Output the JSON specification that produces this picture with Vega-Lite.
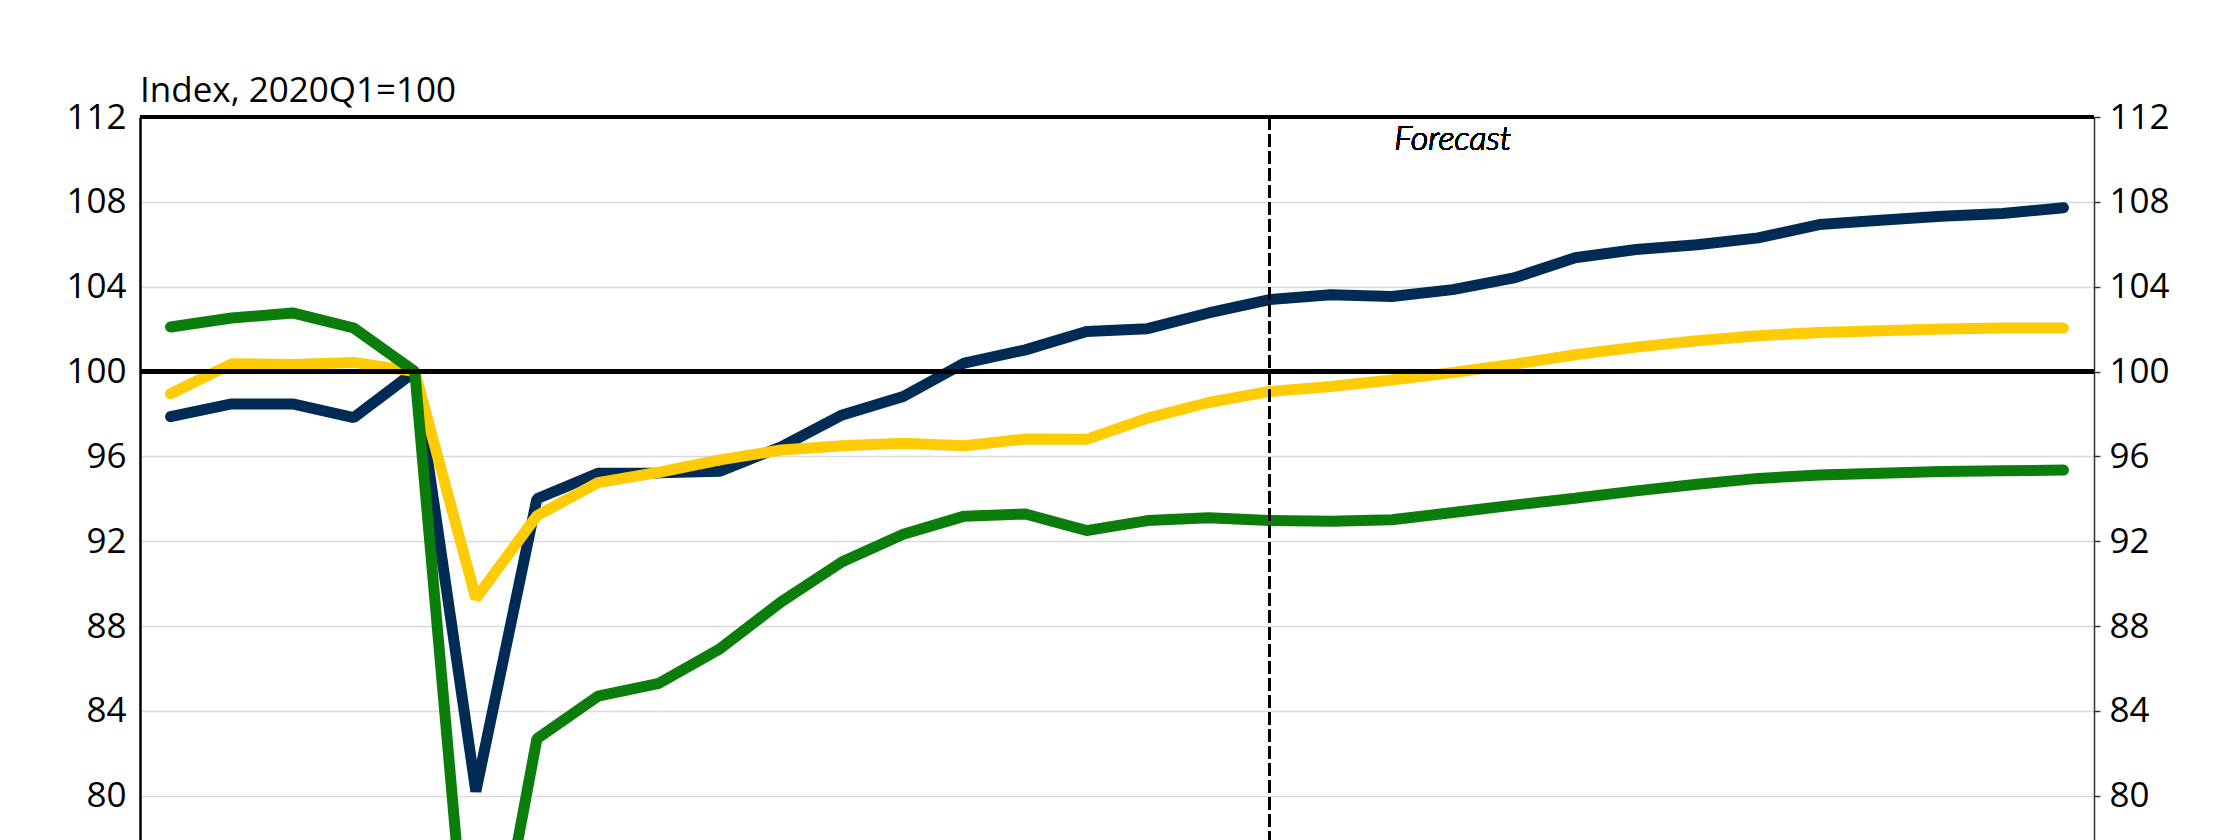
{
  "$schema": "https://vega.github.io/schema/vega-lite/v6.json",
  "autosize": "none",
  "padding": {"left": 140, "top": 117, "right": 143, "bottom": 10},
  "width": 1954,
  "height": 1018,
  "background": "white",
  "config": {
    "view": {"stroke": null},
    "font": "Open Sans",
    "axis": {"labelFont": "Open Sans", "labelFontSize": 35, "labelColor": "#000000", "labelFlush": false, "labelOverlap": false}
  },
  "title": {
    "text": "Index, 2020Q1=100",
    "anchor": "start",
    "frame": "group",
    "font": "Open Sans",
    "fontSize": 35,
    "fontWeight": "normal",
    "color": "#000000",
    "baseline": "alphabetic",
    "offset": -37
  },
  "datasets": {
    "series": [
      {"q": "2019Q1", "s": "Series 1", "v": 97.87}, {"q": "2019Q2", "s": "Series 1", "v": 98.47}, {"q": "2019Q3", "s": "Series 1", "v": 98.47}, {"q": "2019Q4", "s": "Series 1", "v": 97.83},
      {"q": "2020Q1", "s": "Series 1", "v": 100}, {"q": "2020Q2", "s": "Series 1", "v": 80.2}, {"q": "2020Q3", "s": "Series 1", "v": 94.0}, {"q": "2020Q4", "s": "Series 1", "v": 95.2},
      {"q": "2021Q1", "s": "Series 1", "v": 95.22}, {"q": "2021Q2", "s": "Series 1", "v": 95.3}, {"q": "2021Q3", "s": "Series 1", "v": 96.45}, {"q": "2021Q4", "s": "Series 1", "v": 97.95},
      {"q": "2022Q1", "s": "Series 1", "v": 98.82}, {"q": "2022Q2", "s": "Series 1", "v": 100.4}, {"q": "2022Q3", "s": "Series 1", "v": 101.02}, {"q": "2022Q4", "s": "Series 1", "v": 101.89},
      {"q": "2023Q1", "s": "Series 1", "v": 102.02}, {"q": "2023Q2", "s": "Series 1", "v": 102.76}, {"q": "2023Q3", "s": "Series 1", "v": 103.39}, {"q": "2023Q4", "s": "Series 1", "v": 103.62},
      {"q": "2024Q1", "s": "Series 1", "v": 103.54}, {"q": "2024Q2", "s": "Series 1", "v": 103.86}, {"q": "2024Q3", "s": "Series 1", "v": 104.41}, {"q": "2024Q4", "s": "Series 1", "v": 105.36},
      {"q": "2025Q1", "s": "Series 1", "v": 105.75}, {"q": "2025Q2", "s": "Series 1", "v": 105.98}, {"q": "2025Q3", "s": "Series 1", "v": 106.3}, {"q": "2025Q4", "s": "Series 1", "v": 106.93},
      {"q": "2026Q1", "s": "Series 1", "v": 107.13}, {"q": "2026Q2", "s": "Series 1", "v": 107.32}, {"q": "2026Q3", "s": "Series 1", "v": 107.45}, {"q": "2026Q4", "s": "Series 1", "v": 107.72},

      {"q": "2019Q1", "s": "Series 2", "v": 98.95}, {"q": "2019Q2", "s": "Series 2", "v": 100.36}, {"q": "2019Q3", "s": "Series 2", "v": 100.33}, {"q": "2019Q4", "s": "Series 2", "v": 100.43},
      {"q": "2020Q1", "s": "Series 2", "v": 100}, {"q": "2020Q2", "s": "Series 2", "v": 89.3}, {"q": "2020Q3", "s": "Series 2", "v": 93.2}, {"q": "2020Q4", "s": "Series 2", "v": 94.76},
      {"q": "2021Q1", "s": "Series 2", "v": 95.25}, {"q": "2021Q2", "s": "Series 2", "v": 95.83}, {"q": "2021Q3", "s": "Series 2", "v": 96.3}, {"q": "2021Q4", "s": "Series 2", "v": 96.5},
      {"q": "2022Q1", "s": "Series 2", "v": 96.62}, {"q": "2022Q2", "s": "Series 2", "v": 96.5}, {"q": "2022Q3", "s": "Series 2", "v": 96.82}, {"q": "2022Q4", "s": "Series 2", "v": 96.8},
      {"q": "2023Q1", "s": "Series 2", "v": 97.8}, {"q": "2023Q2", "s": "Series 2", "v": 98.54}, {"q": "2023Q3", "s": "Series 2", "v": 99.06}, {"q": "2023Q4", "s": "Series 2", "v": 99.29},
      {"q": "2024Q1", "s": "Series 2", "v": 99.6}, {"q": "2024Q2", "s": "Series 2", "v": 99.95}, {"q": "2024Q3", "s": "Series 2", "v": 100.34}, {"q": "2024Q4", "s": "Series 2", "v": 100.79},
      {"q": "2025Q1", "s": "Series 2", "v": 101.15}, {"q": "2025Q2", "s": "Series 2", "v": 101.45}, {"q": "2025Q3", "s": "Series 2", "v": 101.69}, {"q": "2025Q4", "s": "Series 2", "v": 101.84},
      {"q": "2026Q1", "s": "Series 2", "v": 101.92}, {"q": "2026Q2", "s": "Series 2", "v": 102.0}, {"q": "2026Q3", "s": "Series 2", "v": 102.05}, {"q": "2026Q4", "s": "Series 2", "v": 102.05},

      {"q": "2019Q1", "s": "Series 3", "v": 102.1}, {"q": "2019Q2", "s": "Series 3", "v": 102.52}, {"q": "2019Q3", "s": "Series 3", "v": 102.76}, {"q": "2019Q4", "s": "Series 3", "v": 102.05},
      {"q": "2020Q1", "s": "Series 3", "v": 100}, {"q": "2020Q2", "s": "Series 3", "v": 67.3}, {"q": "2020Q3", "s": "Series 3", "v": 82.68}, {"q": "2020Q4", "s": "Series 3", "v": 84.69},
      {"q": "2021Q1", "s": "Series 3", "v": 85.3}, {"q": "2021Q2", "s": "Series 3", "v": 86.93}, {"q": "2021Q3", "s": "Series 3", "v": 89.14}, {"q": "2021Q4", "s": "Series 3", "v": 91.03},
      {"q": "2022Q1", "s": "Series 3", "v": 92.33}, {"q": "2022Q2", "s": "Series 3", "v": 93.18}, {"q": "2022Q3", "s": "Series 3", "v": 93.28}, {"q": "2022Q4", "s": "Series 3", "v": 92.5},
      {"q": "2023Q1", "s": "Series 3", "v": 92.97}, {"q": "2023Q2", "s": "Series 3", "v": 93.1}, {"q": "2023Q3", "s": "Series 3", "v": 92.98}, {"q": "2023Q4", "s": "Series 3", "v": 92.94},
      {"q": "2024Q1", "s": "Series 3", "v": 93.01}, {"q": "2024Q2", "s": "Series 3", "v": 93.35}, {"q": "2024Q3", "s": "Series 3", "v": 93.7}, {"q": "2024Q4", "s": "Series 3", "v": 94.02},
      {"q": "2025Q1", "s": "Series 3", "v": 94.37}, {"q": "2025Q2", "s": "Series 3", "v": 94.68}, {"q": "2025Q3", "s": "Series 3", "v": 94.96}, {"q": "2025Q4", "s": "Series 3", "v": 95.12},
      {"q": "2026Q1", "s": "Series 3", "v": 95.2}, {"q": "2026Q2", "s": "Series 3", "v": 95.28}, {"q": "2026Q3", "s": "Series 3", "v": 95.32}, {"q": "2026Q4", "s": "Series 3", "v": 95.35}
    ]
  },
  "data": {"name": "series"},
  "resolve": {"axis": {"y": "independent"}},
  "layer": [
    {
      "transform": [{"filter": "datum.s === 'Series 1'"}],
      "mark": {"type": "line", "color": "#002b55", "strokeWidth": 11, "strokeCap": "round", "strokeJoin": "bevel"},
      "encoding": {
        "x": {"field": "q", "type": "ordinal", "sort": null, "scale": {"type": "point", "padding": 0.5}, "axis": null},
        "y": {"field": "v", "type": "quantitative", "scale": {"domain": [64, 112], "nice": false, "zero": false},
          "axis": {"orient": "left", "title": null, "values": [64, 68, 72, 76, 80, 84, 88, 92, 96, 100, 104, 108, 112],
            "grid": true, "gridColor": "#d9d9d9", "gridWidth": 1.5, "ticks": false, "labelPadding": 14,
            "domain": true, "domainColor": "#000000", "domainWidth": 2.5}}
      }
    },
    {
      "transform": [{"filter": "datum.s === 'Series 2'"}],
      "mark": {"type": "line", "color": "#ffcb05", "strokeWidth": 11, "strokeCap": "round", "strokeJoin": "bevel"},
      "encoding": {
        "x": {"field": "q", "type": "ordinal", "sort": null, "axis": null},
        "y": {"field": "v", "type": "quantitative",
          "axis": {"orient": "right", "title": null, "values": [64, 68, 72, 76, 80, 84, 88, 92, 96, 100, 104, 108, 112],
            "grid": false, "ticks": true, "tickSize": 6, "tickColor": "#333333", "tickWidth": 1.5, "labelPadding": 9,
            "domain": true, "domainColor": "#333333", "domainWidth": 1.5}}
      }
    },
    {
      "transform": [{"filter": "datum.s === 'Series 3'"}],
      "mark": {"type": "line", "color": "#0a7d0a", "strokeWidth": 11, "strokeCap": "round", "strokeJoin": "bevel"},
      "encoding": {
        "x": {"field": "q", "type": "ordinal", "sort": null, "axis": null},
        "y": {"field": "v", "type": "quantitative", "axis": null}
      }
    },
    {
      "mark": {"type": "rule", "color": "#000000", "strokeWidth": 3.5},
      "encoding": {"y": {"datum": 100, "type": "quantitative", "axis": null}}
    },
    {
      "mark": {"type": "rule", "color": "#000000", "strokeWidth": 2.5},
      "encoding": {"y": {"datum": 112, "type": "quantitative", "axis": null}}
    },
    {
      "mark": {"type": "rule", "color": "#000000", "strokeWidth": 2.5, "strokeDash": [13, 4]},
      "encoding": {"x": {"datum": "2023Q3", "type": "ordinal", "axis": null}}
    },
    {
      "mark": {"type": "text", "text": "Forecast", "font": "Lato", "fontSize": 34, "fontStyle": "italic", "fontWeight": 300, "align": "center", "baseline": "middle", "color": "#000000"},
      "encoding": {
        "x": {"datum": "2024Q2", "type": "ordinal", "axis": null},
        "y": {"datum": 110.9, "type": "quantitative", "axis": null}
      }
    }
  ]
}
